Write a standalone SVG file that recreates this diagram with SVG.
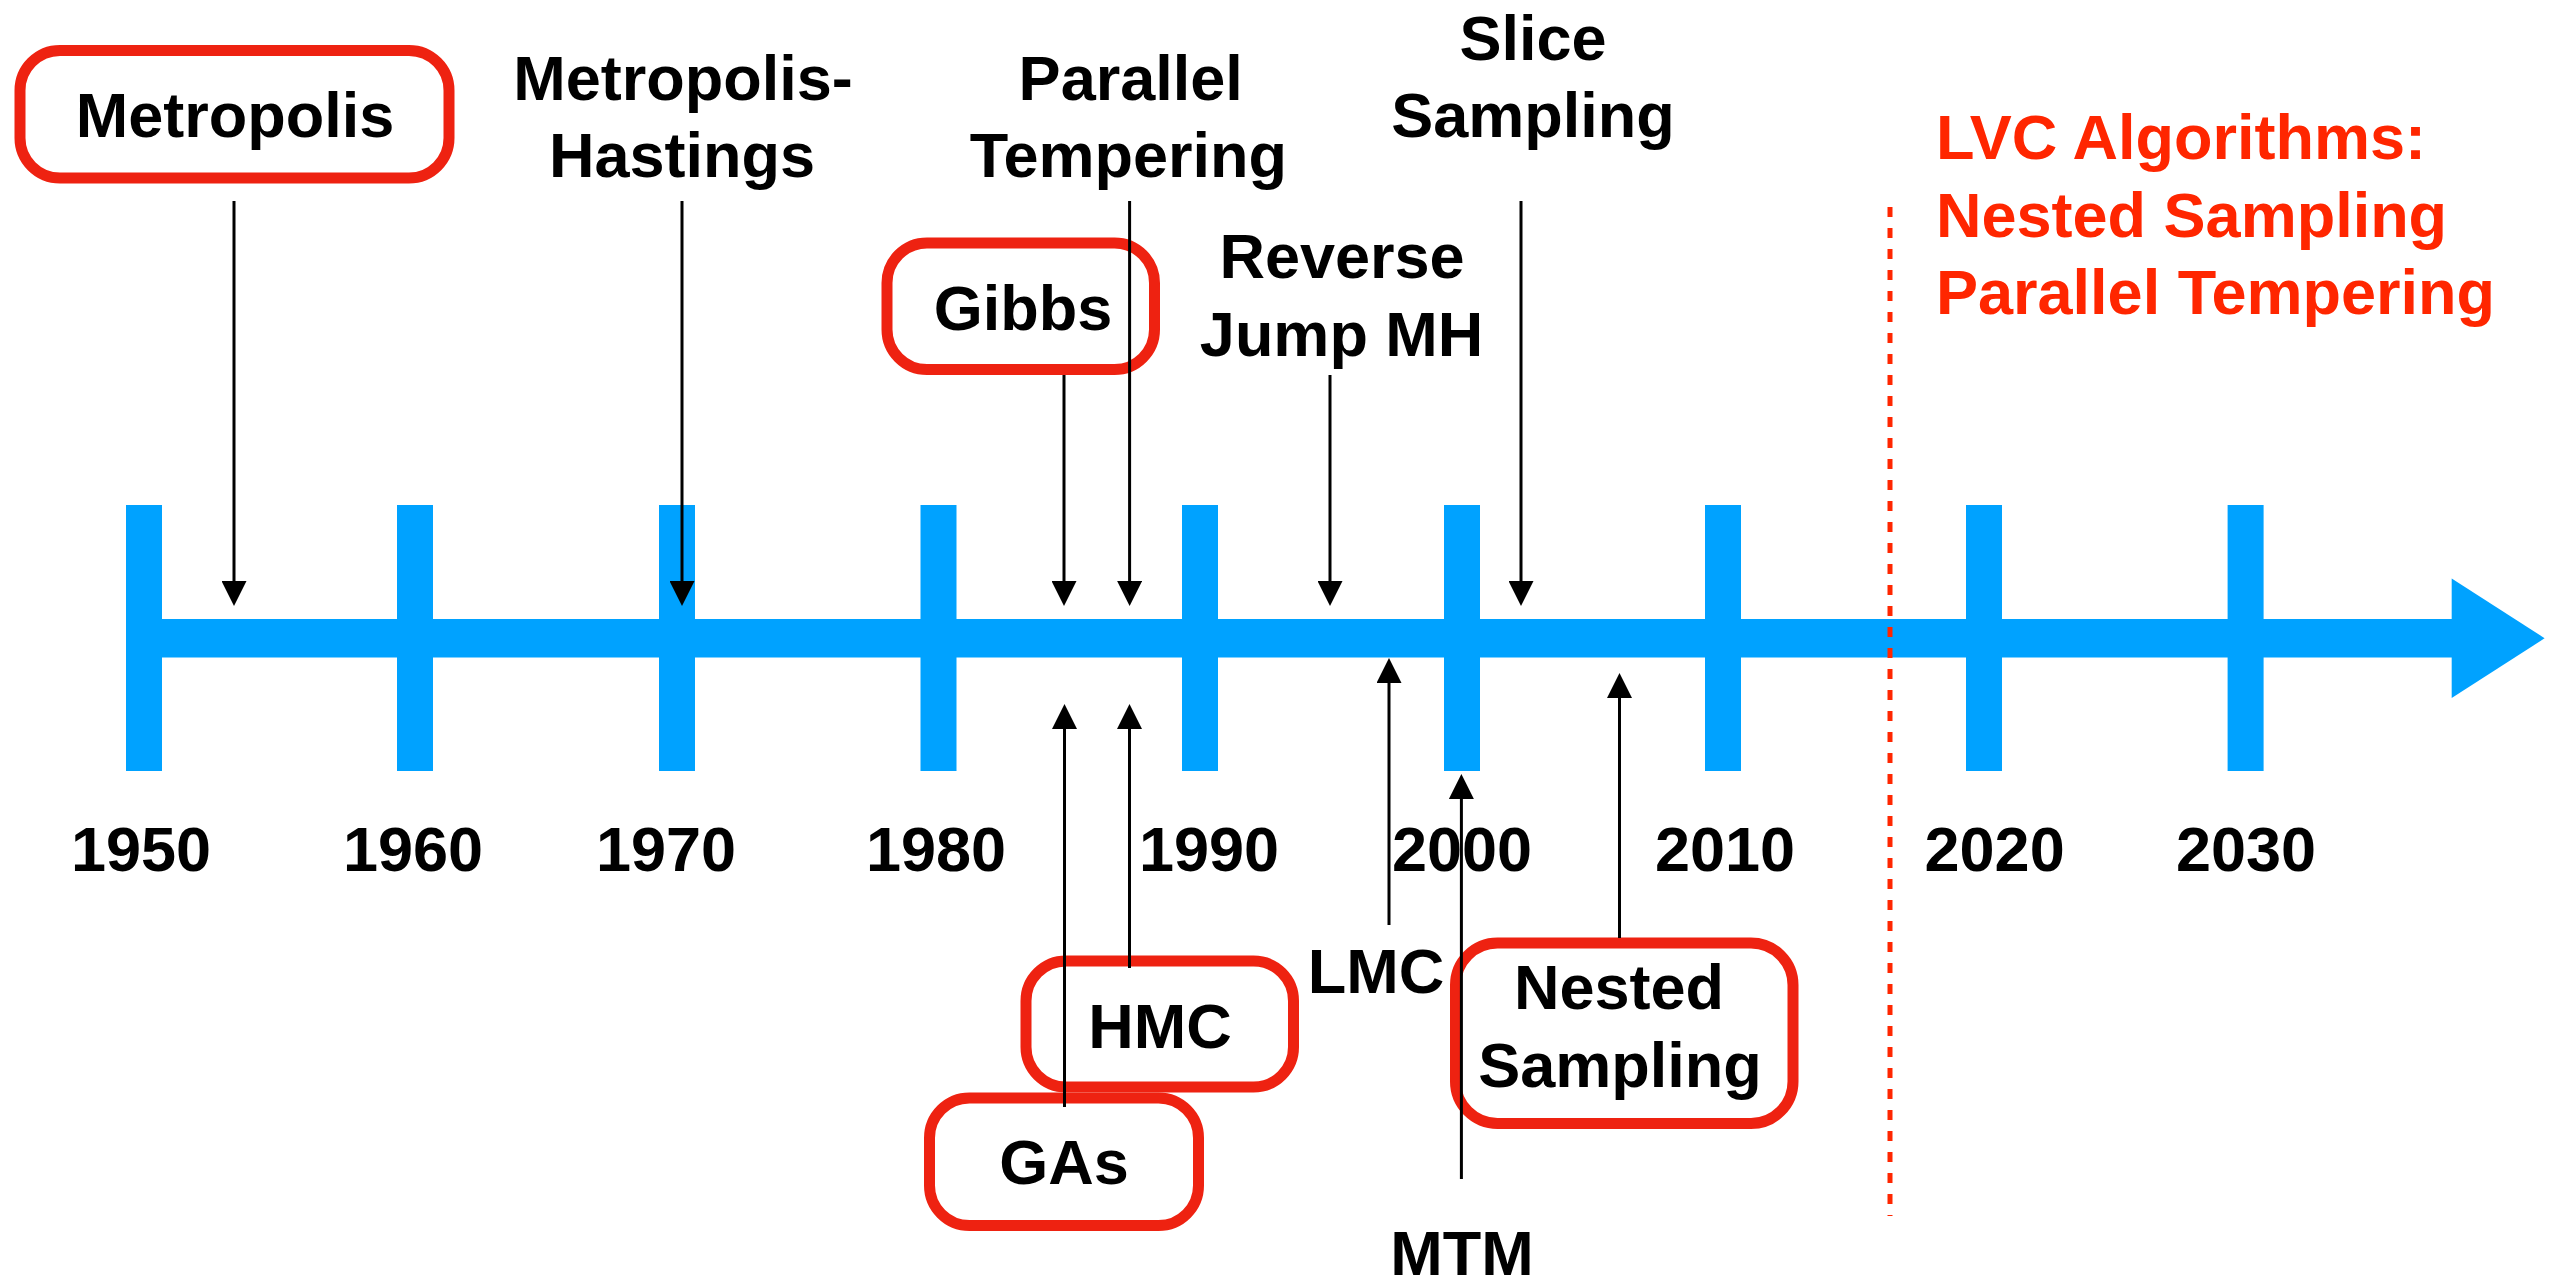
<svg xmlns="http://www.w3.org/2000/svg" width="2559" height="1279" viewBox="0 0 2559 1279">
<style>
  .t { font-family: "Liberation Sans", Arial, Helvetica, sans-serif; font-weight: bold; font-size: 63px; fill: #000; }
  .c { text-anchor: middle; }
  .red { fill: #FF2600; }
  .box { fill: none; stroke: #EE2211; stroke-width: 11; }
  .blue { fill: #00A2FF; }
  .arr { stroke: #000; stroke-width: 3; fill: none; marker-end: url(#ah); }
</style>
<defs>
  <marker id="ah" markerUnits="userSpaceOnUse" markerWidth="25" markerHeight="25" viewBox="0 0 25 25" refX="20" refY="12.5" orient="auto">
    <path d="M0,0 L25,12.5 L0,25 Z" fill="#000"/>
  </marker>
</defs>
<rect width="2559" height="1279" fill="#fff"/>

<g id="timeline">
  <rect class="blue" x="126" y="619" width="2330" height="38.5"/>
  <polygon class="blue" points="2451.7,578.4 2544.6,638.3 2451.7,698"/>
  <rect class="blue" x="126" y="505" width="36" height="266"/>
  <rect class="blue" x="397" y="505" width="36" height="266"/>
  <rect class="blue" x="659" y="505" width="36" height="266"/>
  <rect class="blue" x="920.5" y="505" width="36" height="266"/>
  <rect class="blue" x="1182" y="505" width="36" height="266"/>
  <rect class="blue" x="1444" y="505" width="36" height="266"/>
  <rect class="blue" x="1705" y="505" width="36" height="266"/>
  <rect class="blue" x="1966" y="505" width="36" height="266"/>
  <rect class="blue" x="2227.6" y="505" width="36" height="266"/>
</g>

<g id="years">
  <text class="t c" x="141" y="871">1950</text>
  <text class="t c" x="413" y="871">1960</text>
  <text class="t c" x="666" y="871">1970</text>
  <text class="t c" x="936" y="871">1980</text>
  <text class="t c" x="1209" y="871">1990</text>
  <text class="t c" x="1462" y="871">2000</text>
  <text class="t c" x="1725" y="871">2010</text>
  <text class="t c" x="1994.6" y="871">2020</text>
  <text class="t c" x="2246" y="871">2030</text>
</g>

<g id="lvc-divider">
  <line x1="1890" y1="207" x2="1890" y2="1216" stroke="#FF2600" stroke-width="5" stroke-dasharray="10,11"/>
</g>

<g id="lvc-label">
  <text class="t red" x="1936" y="159">LVC Algorithms:</text>
  <text class="t red" x="1936" y="236.6">Nested Sampling</text>
  <text class="t red" x="1936" y="313.5">Parallel Tempering</text>
</g>

<g id="metropolis">
  <rect class="box" x="20" y="50.5" width="429" height="127.5" rx="40" ry="40"/>
  <text class="t c" x="235" y="137">Metropolis</text>
</g>
<g id="metropolis-hastings">
  <text class="t c" x="683" y="100">Metropolis-</text>
  <text class="t c" x="682" y="177">Hastings</text>
</g>
<g id="parallel-tempering">
  <text class="t c" x="1130.7" y="100">Parallel</text>
  <text class="t c" x="1128.4" y="177.3">Tempering</text>
</g>
<g id="slice-sampling">
  <text class="t c" x="1533" y="60">Slice</text>
  <text class="t c" x="1533" y="137">Sampling</text>
</g>
<g id="gibbs">
  <rect class="box" x="887" y="243" width="267.5" height="126.5" rx="40" ry="40"/>
  <text class="t c" x="1023" y="330">Gibbs</text>
</g>
<g id="reverse-jump-mh">
  <text class="t c" x="1342" y="278">Reverse</text>
  <text class="t c" x="1341.6" y="356">Jump MH</text>
</g>
<g id="hmc">
  <rect class="box" x="1026" y="961" width="267.5" height="126" rx="40" ry="40"/>
  <text class="t c" x="1160" y="1048">HMC</text>
</g>
<g id="gas">
  <rect class="box" x="929.5" y="1098" width="269" height="127.5" rx="40" ry="40"/>
  <text class="t c" x="1064" y="1184">GAs</text>
</g>
<g id="lmc">
  <text class="t c" x="1376" y="993">LMC</text>
</g>
<g id="nested-sampling">
  <rect class="box" x="1455.5" y="943" width="337.5" height="180.5" rx="42" ry="42"/>
  <text class="t c" x="1619" y="1009">Nested</text>
  <text class="t c" x="1620" y="1087">Sampling</text>
</g>
<g id="mtm">
  <text class="t c" x="1462" y="1275">MTM</text>
</g>

<g id="connectors">
  <line class="arr" x1="234" y1="201" x2="234" y2="601"/>
  <line class="arr" x1="682" y1="201" x2="682" y2="601"/>
  <line class="arr" x1="1064" y1="375" x2="1064" y2="601"/>
  <line class="arr" x1="1129.6" y1="201" x2="1129.6" y2="601"/>
  <line class="arr" x1="1330" y1="375" x2="1330" y2="601"/>
  <line class="arr" x1="1521" y1="201" x2="1521" y2="601"/>
  <line class="arr" x1="1064.5" y1="1107" x2="1064.5" y2="709"/>
  <line class="arr" x1="1129.5" y1="968" x2="1129.5" y2="709"/>
  <line class="arr" x1="1389" y1="925" x2="1389" y2="663"/>
  <line class="arr" x1="1461.4" y1="1179" x2="1461.4" y2="779"/>
  <line class="arr" x1="1619.5" y1="938" x2="1619.5" y2="678"/>
</g>
</svg>
